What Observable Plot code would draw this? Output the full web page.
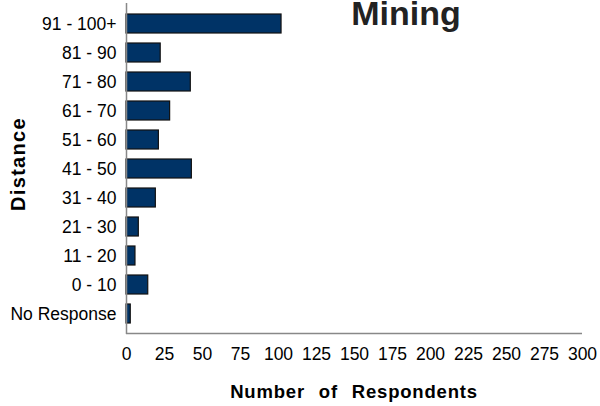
<!DOCTYPE html>
<html>
<head>
<meta charset="utf-8">
<script src="https://cdn.jsdelivr.net/npm/d3@7"></script>
<script src="https://cdn.jsdelivr.net/npm/@observablehq/plot@0.6"></script>
<style>
  html, body { margin: 0; padding: 0; background: #fff; }
  #chart { position: relative; width: 600px; height: 406px; overflow: hidden; }
  #chart svg { display: block; }
</style>
</head>
<body>
<div id="chart"></div>
<script>
const categories = ["91 - 100+", "81 - 90", "71 - 80", "61 - 70", "51 - 60", "41 - 50", "31 - 40", "21 - 30", "11 - 20", "0 - 10", "No Response"];
const respondents = [102, 22.5, 42.3, 28.7, 21.3, 43, 19.3, 8.1, 5.9, 14.3, 2.8];
const xTicks = [0, 25, 50, 75, 100, 125, 150, 175, 200, 225, 250, 275, 300];
const title = "Mining";
const xLabel = "Number of Respondents";
const yLabel = "Distance";

const data = categories.map((c, i) => ({category: c, value: respondents[i]}));

const font = "'Liberation Sans', Arial, sans-serif";

const chart = Plot.plot({
  width: 600,
  height: 406,
  marginLeft: 126,
  marginRight: 18,
  marginTop: 3,
  marginBottom: 72,
  style: {fontFamily: font, fontSize: "17.5px", color: "#000", background: "#fff"},
  x: {domain: [0, 300], ticks: xTicks, label: null},
  y: {domain: categories, padding: 0.35, label: null},
  marks: [
    Plot.barX(data, {x: "value", y: "category", fill: "#003366", stroke: "#111", strokeWidth: 1.2}),
    Plot.axisX({ticks: xTicks, tickSize: 0, tickPadding: 13, label: null, fontSize: 17.5, fill: "#000"}),
    Plot.axisY({tickSize: 0, tickPadding: 10, label: null, fontSize: 17.5, fill: "#000"}),
    Plot.ruleX([0], {stroke: "#888", strokeWidth: 1.5})
  ]
});

document.getElementById("chart").appendChild(chart);

// Bottom axis line, title and axis labels drawn as real SVG text
const svg = d3.select(chart);
svg.append("line")
  .attr("x1", 126).attr("x2", 582).attr("y1", 333.5).attr("y2", 333.5)
  .attr("stroke", "#888").attr("stroke-width", 1.5);
svg.append("text")
  .attr("x", 406).attr("y", 25)
  .attr("text-anchor", "middle")
  .attr("font-family", font).attr("font-weight", "bold").attr("font-size", 34)
  .attr("fill", "#222")
  .text(title);
svg.append("text")
  .attr("x", 354).attr("y", 398)
  .attr("text-anchor", "middle")
  .attr("font-family", font).attr("font-weight", "bold").attr("font-size", 18.5)
  .attr("letter-spacing", 0.8).attr("word-spacing", 8)
  .attr("fill", "#000")
  .text(xLabel);
svg.append("text")
  .attr("transform", "translate(25,164) rotate(-90)")
  .attr("text-anchor", "middle")
  .attr("font-family", font).attr("font-weight", "bold").attr("font-size", 20)
  .attr("letter-spacing", 1.3)
  .attr("fill", "#000")
  .text(yLabel);
</script>
</body>
</html>
